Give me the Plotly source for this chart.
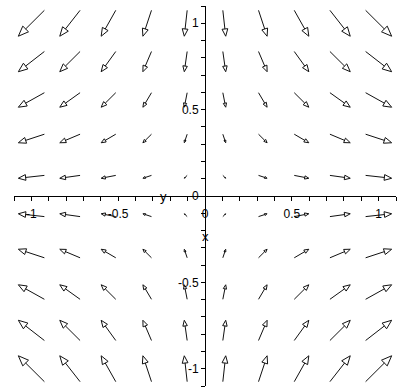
import math
import plotly.graph_objects as go

# Grid of sample points (data units)
x_grid = [-1.0, -0.778, -0.556, -0.333, -0.111, 0.111, 0.333, 0.556, 0.778, 1.0]
y_grid = [1.0, 0.778, 0.556, 0.333, 0.111, -0.111, -0.333, -0.556, -0.778, -1.0]

# Vector components: U[row][col], V[row][col]
U = [
    [-1.0, -0.78, -0.56, -0.33, -0.11, 0.11, 0.33, 0.56, 0.78, 1.0],
    [-1.0, -0.78, -0.56, -0.33, -0.11, 0.11, 0.33, 0.56, 0.78, 1.0],
    [-1.0, -0.78, -0.56, -0.33, -0.11, 0.11, 0.33, 0.56, 0.78, 1.0],
    [-1.0, -0.78, -0.56, -0.33, -0.11, 0.11, 0.33, 0.56, 0.78, 1.0],
    [-1.0, -0.78, -0.56, -0.33, -0.11, 0.11, 0.33, 0.56, 0.78, 1.0],
    [-1.0, -0.78, -0.56, -0.33, -0.11, 0.11, 0.33, 0.56, 0.78, 1.0],
    [-1.0, -0.78, -0.56, -0.33, -0.11, 0.11, 0.33, 0.56, 0.78, 1.0],
    [-1.0, -0.78, -0.56, -0.33, -0.11, 0.11, 0.33, 0.56, 0.78, 1.0],
    [-1.0, -0.78, -0.56, -0.33, -0.11, 0.11, 0.33, 0.56, 0.78, 1.0],
    [-1.0, -0.78, -0.56, -0.33, -0.11, 0.11, 0.33, 0.56, 0.78, 1.0],
]
V = [
    [-1.0] * 10,
    [-0.78] * 10,
    [-0.56] * 10,
    [-0.33] * 10,
    [-0.11] * 10,
    [0.11] * 10,
    [0.33] * 10,
    [0.56] * 10,
    [0.78] * 10,
    [1.0] * 10,
]

tick_vals = [-1, -0.5, 0, 0.5, 1]
tick_text = ["-1", "-0.5", "0", "0.5", "1"]
axis_range = [-1.1, 1.1]

# Styling constants
SCALE = 0.15        # arrow length per unit of vector magnitude (data units)
HEAD_LEN = 0.28     # fraction of arrow length
HEAD_HALF_W = 0.11  # fraction of arrow length

shaft_x, shaft_y, head_x, head_y = [], [], [], []
for i, yc in enumerate(y_grid):
    for j, xc in enumerate(x_grid):
        u = U[i][j] * SCALE
        v = V[i][j] * SCALE
        L = math.hypot(u, v)
        if L == 0:
            continue
        dx, dy = u / L, v / L
        px, py = -dy, dx
        tx0, ty0 = xc - u / 2, yc - v / 2
        tx1, ty1 = xc + u / 2, yc + v / 2
        bx, by = tx1 - HEAD_LEN * L * dx, ty1 - HEAD_LEN * L * dy
        w = HEAD_HALF_W * L
        shaft_x += [tx0, bx, None]
        shaft_y += [ty0, by, None]
        head_x += [tx1, bx + w * px, bx - w * px, tx1, None]
        head_y += [ty1, by + w * py, by - w * py, ty1, None]

fig = go.Figure()
fig.add_trace(go.Scatter(x=shaft_x, y=shaft_y, mode="lines",
                         line=dict(color="#111", width=1), hoverinfo="skip"))
fig.add_trace(go.Scatter(x=head_x, y=head_y, mode="lines",
                         line=dict(color="#111", width=1), hoverinfo="skip"))

W, H = 402, 391
ox, oy = 205, 196  # pixel position of origin
font = dict(family="Liberation Sans, Arial, sans-serif", size=12, color="black")

fig.update_layout(
    width=W, height=H,
    margin=dict(l=0, r=0, t=0, b=0, autoexpand=False),
    plot_bgcolor="white", paper_bgcolor="white",
    showlegend=False,
    xaxis=dict(
        domain=[14 / W, 396 / W], range=axis_range, automargin=False,
        anchor="free", position=(H - oy) / H,
        showline=True, linecolor="black", linewidth=1,
        ticks="outside", ticklen=4, tickcolor="black", tickwidth=1,
        tickmode="array", tickvals=tick_vals, ticktext=tick_text,
        minor=dict(tickmode="linear", tick0=0, dtick=0.1, ticks="outside",
                   ticklen=4, tickcolor="black", tickwidth=1, showgrid=False),
        showgrid=False, zeroline=False, tickfont=font,
        ticklabelstandoff=3,
    ),
    yaxis=dict(
        domain=[(H - 386) / H, (H - 6) / H], range=axis_range, automargin=False,
        anchor="free", position=ox / W,
        showline=True, linecolor="black", linewidth=1,
        ticks="outside", ticklen=4, tickcolor="black", tickwidth=1,
        tickmode="array", tickvals=tick_vals, ticktext=tick_text,
        minor=dict(tickmode="linear", tick0=0, dtick=0.1, ticks="outside",
                   ticklen=4, tickcolor="black", tickwidth=1, showgrid=False),
        showgrid=False, zeroline=False, tickfont=font,
    ),
    annotations=[
        dict(text="y", x=-0.24, y=0, xref="x", yref="y", showarrow=False,
             font=dict(family="Liberation Sans, Arial, sans-serif", size=13, color="black"),
             xanchor="center", yanchor="middle"),
        dict(text="x", x=0, y=-0.232, xref="x", yref="y", showarrow=False,
             font=dict(family="Liberation Sans, Arial, sans-serif", size=13, color="black"),
             xanchor="center", yanchor="middle"),
    ],
)

fig.write_html(
    "out.html",
    config={"displayModeBar": False, "staticPlot": True},
    post_script="document.body.style.margin='0';document.body.style.overflow='hidden';",
)
